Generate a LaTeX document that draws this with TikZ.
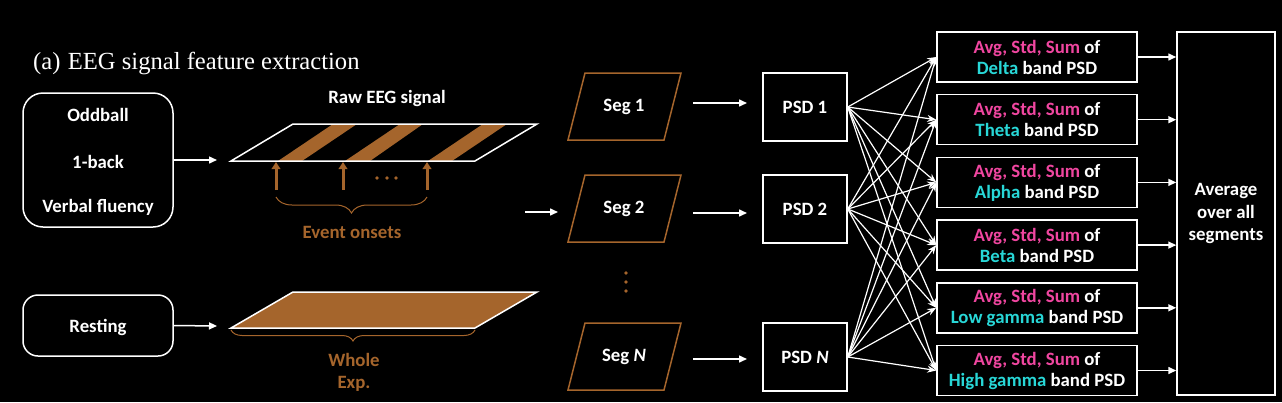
\documentclass[tikz,border=0pt]{standalone}
\usepackage{fontspec}
\setmainfont{Carlito}
\newfontfamily\titlefont{Liberation Serif}
\usetikzlibrary{arrows.meta,decorations.pathreplacing,calc}
\definecolor{brn}{RGB}{165,101,44}
\definecolor{pnk}{RGB}{240,70,160}
\definecolor{cyn}{RGB}{40,215,215}
\begin{document}
\begin{tikzpicture}[x=1pt,y=-1pt,
 txt/.style={text=white,font=\fontsize{18.8}{21}\selectfont\bfseries,align=center,inner sep=0pt},
 btxt/.style={txt,text=brn},
 box/.style={draw=white,line width=1.5pt,inner sep=0pt},
 arr/.style={white,line width=1.5pt,-{Triangle[length=8pt,width=7pt]}},
 fan/.style={white,line width=1.2pt,-{Stealth[length=9pt,width=7pt]}},
 uparr/.style={brn,line width=3pt,-{Triangle[length=7pt,width=8.5pt]}},
 brc/.style={brn,line width=1pt,decorate},
 segp/.style={brn,line width=1.5pt},
]
\fill[black] (0,0) rectangle (1282,402);
\useasboundingbox (0,0) rectangle (1282,402);

% title
\node[font=\titlefont\fontsize{24.6}{28}\selectfont,text=white,anchor=west,inner sep=0pt] (title) at (33,63) {(a)\hspace{0.3em}EEG signal feature extraction};

% task boxes
\node[box,rounded corners=20pt,minimum width=150pt,minimum height=134pt] (task) at (98,160) {};
\node[txt] (odd) at (98,115) {Oddball};
\node[txt] (back) at (98,162) {1-back};
\node[txt] (verb) at (98,207) {Verbal fluency};
\node[box,rounded corners=15pt,minimum width=150pt,minimum height=61pt] (rest) at (98,325.5) {};
\node[txt] (restt) at (98,327) {Resting};

\coordinate (e1) at (217,160);
\coordinate (e2) at (217,326);
\draw[arr] (task.east) -- (e1);
\draw[arr] (rest.east) -- (e2);

% raw EEG
\node[txt] (raw) at (387,98) {Raw EEG signal};
\fill[brn] (278,161) -- (333,124) -- (357,124) -- (302,161) -- cycle;
\fill[brn] (345,161) -- (400,124) -- (423,124) -- (370,161) -- cycle;
\fill[brn] (428,161) -- (483,124) -- (507,124) -- (452,161) -- cycle;
\draw[white,line width=1.5pt,line join=miter] (293,124) -- (537,124) -- (475,161) -- (231,161) -- cycle;
\coordinate (u1) at (276,190); \coordinate (u1t) at (276,162);
\coordinate (u2) at (343,190); \coordinate (u2t) at (343,162);
\coordinate (u3) at (427,190); \coordinate (u3t) at (427,162);
\draw[uparr] (u1) -- (u1t);
\draw[uparr] (u2) -- (u2t);
\draw[uparr] (u3) -- (u3t);
\foreach \x in {377,387,396} \fill[brn] (\x,178) circle (1.8pt);
\draw[brc,decoration={brace,mirror,amplitude=16pt}] (276,197) -- (427,197);
\node[btxt] (onsets) at (352,232) {Event onsets};

% resting signal
\draw[white,line width=1.5pt,fill=brn] (293,292) -- (537,292) -- (475,328) -- (231,328) -- cycle;
\draw[brc,decoration={brace,mirror,amplitude=11pt}] (231,330) -- (475,330);
\node[btxt,font=\fontsize{18.8}{22}\selectfont\bfseries] (whole) at (354,372) {Whole\\Exp.};

\coordinate (m1) at (525,212); \coordinate (m2) at (558,212);
\draw[arr] (m1) -- (m2);

% segments
\foreach \n/\y/\t in {s1/106.5/{Seg 1}, s2/208.5/{Seg 2}, sN/356.5/{Seg \textit{N}}}{
  \draw[segp] ($(616.5,\y)+(-31.5,-33.5)$) -- ++(96,0) -- ++(-17,67) -- ++(-96,0) -- cycle;
  \node[txt] (\n) at (624,\y) {\t};
}
\foreach \y in {273,282,291} \fill[brn] (626,\y) circle (1.8pt);

% PSD
\node[box,txt,minimum width=84pt,minimum height=68pt] (p1) at (805,107) {PSD 1};
\node[box,txt,minimum width=84pt,minimum height=68pt] (p2) at (805,209) {PSD 2};
\node[box,txt,minimum width=84pt,minimum height=68pt] (pN) at (805,357) {PSD \textit{N}};

\coordinate (a1) at (693,103); \coordinate (b1) at (747,103);
\coordinate (a2) at (693,213); \coordinate (b2) at (747,213);
\coordinate (a3) at (693,359); \coordinate (b3) at (747,359);
\draw[arr] (a1) -- (b1);
\draw[arr] (a2) -- (b2);
\draw[arr] (a3) -- (b3);

% feature boxes
\foreach \i/\y/\b in {1/57/Delta, 2/119.7/Theta, 3/182.4/Alpha, 4/245.1/Beta, 5/307.8/Low gamma, 6/370.5/High gamma}{
  \node[box,txt,minimum width=200pt,minimum height=50pt] (f\i) at (1037,\y)
   {\textcolor{pnk}{Avg, Std, Sum} of\\\textcolor{cyn}{\b} band PSD};
}

% average
\node[box,txt,minimum width=98pt,minimum height=363pt,font=\fontsize{18.8}{22.5}\selectfont\bfseries] (avg) at (1226,213.5) {Average\\over all\\segments};

\foreach \i in {1,...,6} \draw[arr] (f\i.east) -- (avg.west |- f\i.east);

% fan-out
\foreach \p in {p1,p2,pN}
  \foreach \i in {1,...,6}
    \draw[fan] (\p.east) -- (f\i.west);
\end{tikzpicture}
\end{document}
